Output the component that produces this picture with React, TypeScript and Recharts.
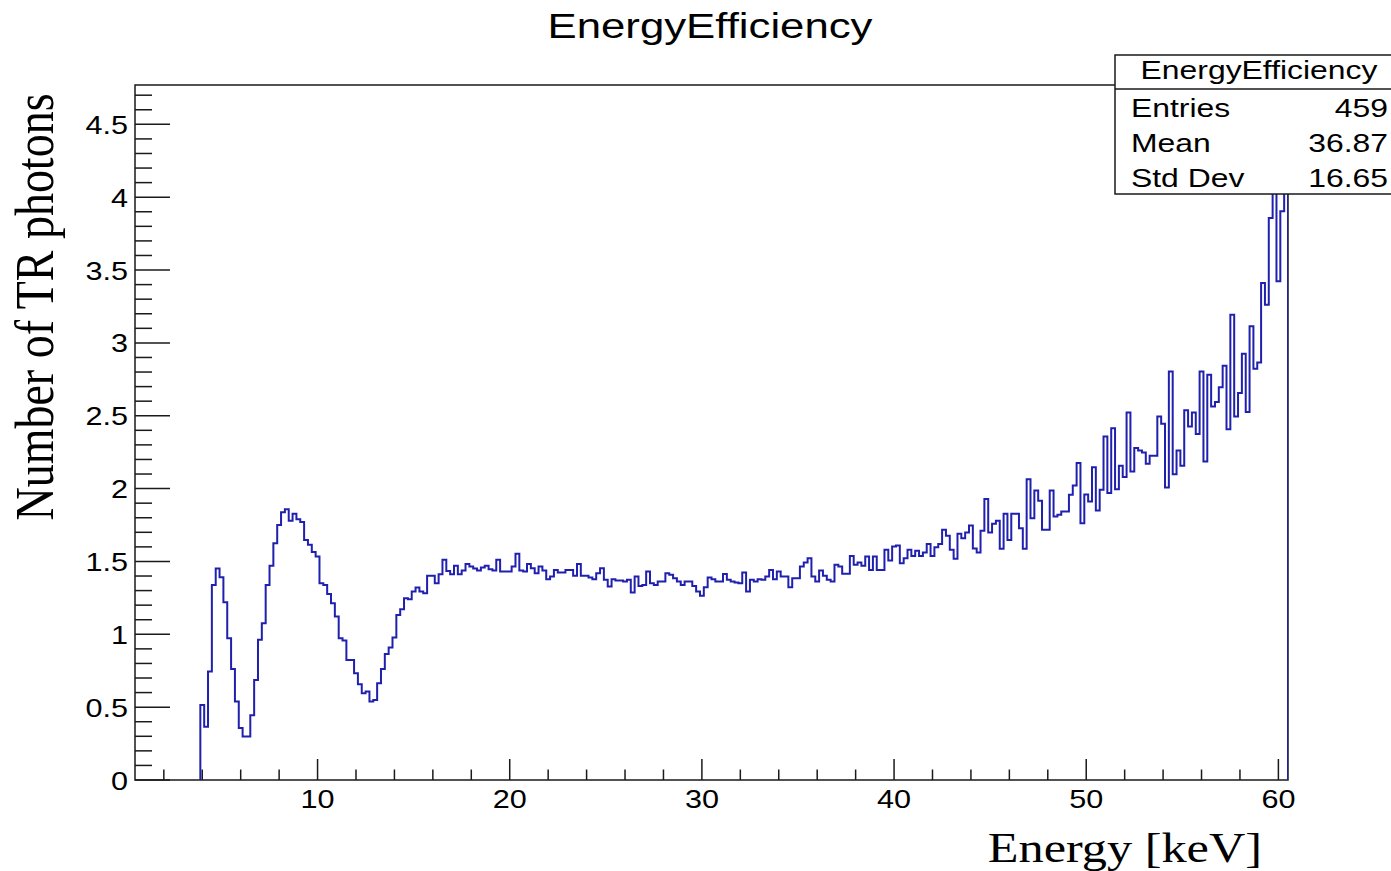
import React from "react";
import { LineChart, Line, XAxis, YAxis, ReferenceArea } from "recharts";

const histTitle = "EnergyEfficiency";
const xAxisTitle = "Energy [keV]";
const yAxisTitle = "Number of TR photons";

const binStart = 3.9;
const binWidth = 0.2;
const xRange: [number, number] = [0.5, 60.5];
const yRange: [number, number] = [0, 4.77];

// bin contents (0.2 keV bins starting at 3.9 keV)
const counts04to10 = [
  0.515, 0.366, 0.744, 1.339, 1.451, 1.392, 1.22, 0.973, 0.762, 0.538,
  0.357, 0.298, 0.298, 0.444, 0.687, 0.962, 1.076, 1.339, 1.47, 1.625,
  1.751, 1.838, 1.859, 1.779, 1.827, 1.79, 1.77, 1.648, 1.614, 1.564,
  1.534, 1.351, 1.339, 1.277,
];
const counts10to20 = [
  1.213, 1.122, 0.973, 0.957, 0.824, 0.824, 0.733, 0.657, 0.595, 0.607,
  0.538, 0.549, 0.664, 0.762, 0.865, 0.909, 0.978, 1.133, 1.172, 1.248,
  1.241, 1.293, 1.321, 1.293, 1.282, 1.401, 1.401, 1.351, 1.412, 1.511,
  1.435, 1.412, 1.47, 1.412, 1.438, 1.483, 1.465, 1.451, 1.438, 1.458,
  1.47, 1.447, 1.438, 1.511, 1.431, 1.431, 1.431, 1.465,
];
const counts20to30 = [
  1.552, 1.438, 1.431, 1.483, 1.454, 1.419, 1.465, 1.438, 1.378, 1.397,
  1.442, 1.424, 1.424, 1.442, 1.442, 1.401, 1.483, 1.401, 1.401, 1.39,
  1.378, 1.419, 1.454, 1.374, 1.328, 1.378, 1.369, 1.369, 1.362, 1.374,
  1.287, 1.397, 1.332, 1.339, 1.431, 1.351, 1.339, 1.362, 1.362, 1.419,
  1.408, 1.385, 1.362, 1.339, 1.362, 1.362, 1.332, 1.294, 1.264, 1.323,
];
const counts30to40 = [
  1.39, 1.378, 1.362, 1.362, 1.413, 1.374, 1.362, 1.355, 1.351, 1.424,
  1.294, 1.374, 1.362, 1.378, 1.374, 1.397, 1.442, 1.378, 1.431, 1.397,
  1.397, 1.323, 1.385, 1.385, 1.465, 1.493, 1.522, 1.397, 1.362, 1.438,
  1.401, 1.374, 1.362, 1.477, 1.465, 1.415, 1.415, 1.538, 1.477, 1.493,
  1.47, 1.534, 1.442, 1.534, 1.442, 1.442, 1.58, 1.506,
];
const counts40to50 = [
  1.603, 1.609, 1.488, 1.522, 1.58, 1.538, 1.573, 1.538, 1.561, 1.619,
  1.538, 1.598, 1.619, 1.717, 1.676, 1.58, 1.518, 1.69, 1.66, 1.699,
  1.747, 1.589, 1.561, 1.71, 1.928, 1.699, 1.758, 1.779, 1.587, 1.827,
  1.648, 1.827, 1.827, 1.728, 1.587, 2.065, 1.797, 1.987, 1.916, 1.717,
  1.717, 1.987, 1.808, 1.82, 1.843, 1.843, 1.957, 2.022, 2.175, 1.763,
];
const counts50to60 = [
  1.96, 1.912, 2.147, 1.85, 1.992, 2.358, 1.969, 2.415, 1.996, 2.157,
  2.079, 2.523, 2.118, 2.278, 2.262, 2.248, 2.17, 2.225, 2.225, 2.495,
  2.445, 2.008, 2.804, 2.099, 2.262, 2.157, 2.537, 2.427, 2.523, 2.374,
  2.804, 2.186, 2.782, 2.564, 2.594, 2.695, 2.843, 2.408, 3.194, 2.495,
  2.656, 2.926, 2.525, 3.114, 2.823, 2.866, 3.411, 3.262, 3.858, 4.3,
  3.423, 3.903, 4.55,
];

const xMajorTicks = [10, 20, 30, 40, 50, 60];
const xMinorTicks = [2, 4, 6, 8, 12, 14, 16, 18, 22, 24, 26, 28, 32, 34, 36, 38, 42, 44, 46, 48, 52, 54, 56, 58];
const yMajorTicks = [0, 0.5, 1, 1.5, 2, 2.5, 3, 3.5, 4, 4.5];
const yMinorTicks = [
  0.1, 0.2, 0.3, 0.4, 0.6, 0.7, 0.8, 0.9, 1.1, 1.2, 1.3, 1.4, 1.6, 1.7, 1.8, 1.9,
  2.1, 2.2, 2.3, 2.4, 2.6, 2.7, 2.8, 2.9, 3.1, 3.2, 3.3, 3.4, 3.6, 3.7, 3.8, 3.9,
  4.1, 4.2, 4.3, 4.4, 4.6, 4.7,
];

const statsLabels = ["Entries", "Mean", "Std Dev"];
const statsValues = ["459", "36.87", "16.65"];

const counts = [
  ...counts04to10,
  ...counts10to20,
  ...counts20to30,
  ...counts30to40,
  ...counts40to50,
  ...counts50to60,
];

const data: { e: number; n: number }[] = [{ e: binStart, n: 0 }];
counts.forEach((c, i) => data.push({ e: +(binStart + i * binWidth).toFixed(2), n: c }));
data.push({ e: xRange[1], n: counts[counts.length - 1] });
data.push({ e: xRange[1], n: 0 });

const SANS = "'Liberation Sans', Arial, sans-serif";
const SERIF = "'Liberation Serif', 'Times New Roman', serif";
const AXIS = "#1a1a1a";
const HIST = "#2020ae";

const XTick = (props: any) => {
  const { x, y, payload } = props;
  const major = xMajorTicks.includes(payload.value);
  return (
    <g>
      <line x1={x} x2={x} y1={y} y2={y - (major ? 21 : 10.5)} stroke={AXIS} strokeWidth={1.5} />
      {major && (
        <text
          transform={`translate(${x},${y + 28}) scale(1.2,1)`}
          textAnchor="middle"
          fontFamily={SANS}
          fontSize={25.5}
          fill="#000"
        >
          {payload.value}
        </text>
      )}
    </g>
  );
};

const YTick = (props: any) => {
  const { x, y, payload } = props;
  const major = yMajorTicks.includes(payload.value);
  return (
    <g>
      <line x1={x} x2={x + (major ? 35 : 17)} y1={y} y2={y} stroke={AXIS} strokeWidth={1.5} />
      {major && (
        <text
          transform={`translate(${x - 7},${y + 9.5}) scale(1.2,1)`}
          textAnchor="end"
          fontFamily={SANS}
          fontSize={25.5}
          fill="#000"
        >
          {payload.value}
        </text>
      )}
    </g>
  );
};

export default function App() {
  const xTicks = [...xMinorTicks, ...xMajorTicks].sort((a, b) => a - b);
  const yTicks = [...yMinorTicks, ...yMajorTicks].sort((a, b) => a - b);
  return (
    <div style={{ position: "absolute", left: 0, top: 0, width: 1391, height: 871, background: "#fff" }}>
      <LineChart
        width={1391}
        height={871}
        data={data}
        margin={{ top: 85, right: 103, left: 0, bottom: 0 }}
      >
        <XAxis
          dataKey="e"
          type="number"
          domain={xRange}
          ticks={xTicks}
          interval={0}
          tick={<XTick />}
          tickLine={false}
          tickSize={0}
          tickMargin={0}
          axisLine={false}
          height={91}
          allowDataOverflow
        />
        <YAxis
          type="number"
          domain={yRange}
          ticks={yTicks}
          interval={0}
          tick={<YTick />}
          tickLine={false}
          tickSize={0}
          tickMargin={0}
          axisLine={false}
          width={135}
          allowDataOverflow
        />
        <ReferenceArea
          x1={xRange[0]}
          x2={xRange[1]}
          y1={yRange[0]}
          y2={yRange[1]}
          fill="none"
          stroke={AXIS}
          strokeWidth={1.5}
          fillOpacity={0}
        />
        <Line
          dataKey="n"
          type="stepAfter"
          stroke={HIST}
          strokeWidth={2}
          dot={false}
          activeDot={false}
          isAnimationActive={false}
        />
      </LineChart>
      <svg
        width={1391}
        height={871}
        style={{ position: "absolute", left: 0, top: 0, pointerEvents: "none" }}
      >
        <text
          transform="translate(710,38) scale(1.25,1)"
          textAnchor="middle"
          fontFamily={SANS}
          fontSize={35}
          fill="#000"
        >
          {histTitle}
        </text>
        <text
          transform="translate(1262,862) scale(1.17,1)"
          textAnchor="end"
          fontFamily={SERIF}
          fontSize={43}
          fill="#000"
        >
          {xAxisTitle}
        </text>
        <text
          transform="translate(53,307) scale(1.18,1) rotate(-90)"
          textAnchor="middle"
          fontFamily={SERIF}
          fontSize={46}
          fill="#000"
        >
          {yAxisTitle}
        </text>
        <rect x={1115} y={55} width={290} height={139} fill="#fff" stroke={AXIS} strokeWidth={1.5} />
        <line x1={1115} x2={1400} y1={89} y2={89} stroke={AXIS} strokeWidth={1.5} />
        <text
          transform="translate(1259,79) scale(1.25,1)"
          textAnchor="middle"
          fontFamily={SANS}
          fontSize={25.5}
          fill="#000"
        >
          {histTitle}
        </text>
        {statsLabels.map((l, i) => (
          <g key={l}>
            <text
              transform={`translate(1131,${117 + i * 35}) scale(1.25,1)`}
              textAnchor="start"
              fontFamily={SANS}
              fontSize={25.5}
              fill="#000"
            >
              {l}
            </text>
            <text
              transform={`translate(1388,${117 + i * 35}) scale(1.25,1)`}
              textAnchor="end"
              fontFamily={SANS}
              fontSize={25.5}
              fill="#000"
            >
              {statsValues[i]}
            </text>
          </g>
        ))}
      </svg>
    </div>
  );
}
